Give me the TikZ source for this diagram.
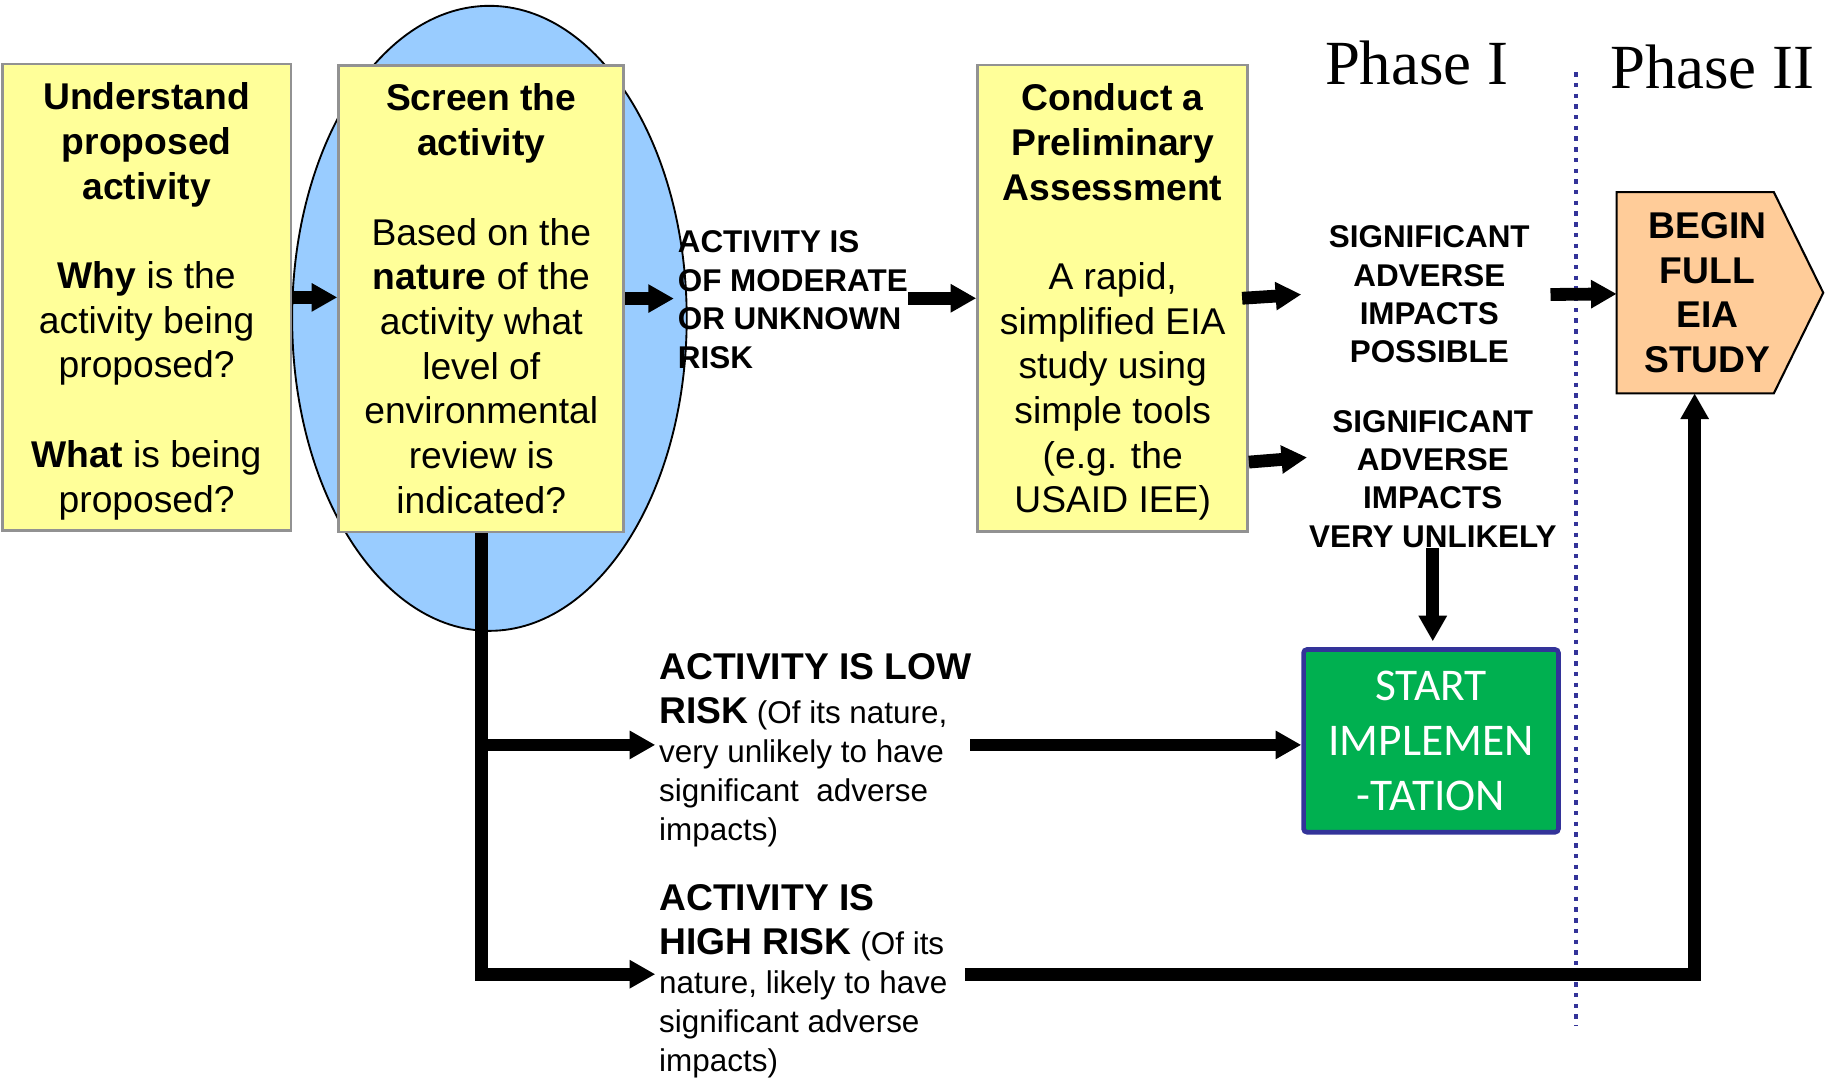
\documentclass[tikz,border=0pt]{standalone}
\usepackage{fontspec}
\setmainfont{Liberation Sans}
\newfontfamily\serifph{Liberation Serif}
\newfontfamily\calib{Carlito}
\usetikzlibrary{arrows.meta,shapes.geometric}
\definecolor{boxyellow}{HTML}{FFFF99}
\definecolor{boxgray}{HTML}{929292}
\definecolor{ovalblue}{HTML}{99CCFF}
\definecolor{peach}{HTML}{FFCC99}
\definecolor{startgreen}{HTML}{00B050}
\definecolor{navy}{HTML}{333399}
\begin{document}
\begin{tikzpicture}[x=0.5pt,y=-0.5pt,
  ybox/.style={draw=boxgray, line width=1.2pt, fill=boxyellow, inner sep=0pt, align=center,
    text depth=0pt, font=\fontsize{16}{19.2}\selectfont},
  blockarrow/.style={line width=5.5pt, line join=miter, -{Triangle[width=11.5pt,length=11pt]}},
  capsfont/.style={font=\fontsize{13.5}{16.5}\selectfont\bfseries, inner sep=0pt},
  risktext/.style={font=\fontsize{13.5}{16.7}\selectfont, align=left, inner sep=0pt, anchor=north west},
  phasetext/.style={font=\serifph\fontsize{27}{30}\selectfont, anchor=base west, inner sep=0pt},
  divider/.style={navy, line width=2pt, dash pattern=on 1.9pt off 2.7pt},
]
\useasboundingbox (0,0) rectangle (1568,928.8);

% oval behind the screening box
\node[ellipse, draw=black, line width=0.8pt, fill=ovalblue, minimum width=169.5pt,
      minimum height=268.5pt, inner sep=0pt] (oval) at (420.5,273.5) {};

% yellow boxes
\node[ybox, minimum width=124pt, minimum height=200.5pt] (understand) at (126,255.5)
 {\textbf{Understand}\\\textbf{proposed}\\\textbf{activity}\\ ~\\\textbf{Why} is the\\activity being\\proposed?\\ ~\\\textbf{What} is being\\proposed?};
\node[ybox, minimum width=122.5pt, minimum height=200.5pt] (screen) at (413.5,256.5)
 {\textbf{Screen the}\\\textbf{activity}\\ ~\\Based on the\\\textbf{nature} of the\\activity what\\level of\\environmental\\review is\\indicated?};
\node[ybox, minimum width=116pt, minimum height=200.5pt] (conduct) at (956,256.25)
 {\textbf{Conduct a}\\\textbf{Preliminary}\\\textbf{Assessment}\\ ~\\A rapid,\\simplified EIA\\study using\\simple tools\\(e.g. the\\USAID IEE)};

% labels
\node[capsfont, align=left, anchor=west] (mod) at (582,257.5)
 {ACTIVITY IS\\OF MODERATE\\OR UNKNOWN\\RISK};
\node[capsfont, align=center] (sigpos) at (1228,253)
 {SIGNIFICANT\\ADVERSE\\IMPACTS\\POSSIBLE};
\node[capsfont, align=center] (sigunl) at (1231,411.5)
 {SIGNIFICANT\\ADVERSE\\IMPACTS\\VERY UNLIKELY};

\node[risktext] (low) at (566,561)
 {{\fontsize{16}{19}\selectfont\bfseries ACTIVITY IS LOW}\\[2.3pt]{\fontsize{16}{19}\selectfont\bfseries RISK} (Of its nature,\\very unlikely to have\\significant~ adverse\\impacts)};
\node[risktext] (high) at (566,759.4)
 {{\fontsize{16}{19}\selectfont\bfseries ACTIVITY IS}\\[2.3pt]{\fontsize{16}{19}\selectfont\bfseries HIGH RISK} (Of its\\nature, likely to have\\significant adverse\\impacts)};

% phase headings
\node[phasetext] (ph1) at (1138,72.4) {Phase I};
\node[phasetext] (ph2) at (1383,75.7) {Phase II};

% begin full EIA pentagon
\coordinate (bA) at (1389,165);
\coordinate (bB) at (1524,165);
\coordinate (bC) at (1566.5,251.5);
\coordinate (bD) at (1524,338);
\coordinate (bE) at (1389,338);
\draw[fill=peach, line width=0.9pt] (bA) -- (bB) -- (bC) -- (bD) -- (bE) -- cycle;
\node[font=\fontsize{16}{19.2}\selectfont\bfseries, align=center, inner sep=0pt] (begin) at (1467,251.5)
 {BEGIN\\FULL\\EIA\\STUDY};
\coordinate (beginW) at (1389,252.5);
\coordinate (beginS) at (1456,338);

% start implementation
\node[draw=navy, line width=2pt, fill=startgreen, rounded corners=1.5pt, minimum width=109.5pt,
      minimum height=78.5pt, text=white, font=\calib\fontsize{19.5}{23.5}\selectfont,
      align=center, inner sep=0pt] (start) at (1229.5,636.5) {START\\IMPLEMEN\\-TATION};

% connector ends
\coordinate (pa) at (1118,253);
\coordinate (pbs) at (1073,397);
\coordinate (pb) at (1123,393);
\coordinate (lowtip) at (563,640);
\coordinate (hightip) at (563,837);
\coordinate (lowend) at (833.5,640);
\coordinate (highend) at (829,837);

% phase divider
\coordinate (divtop) at (1354,62);
\coordinate (divbot) at (1354,881.5);
\draw[divider] (divtop) -- (divbot);

% connectors
\draw[blockarrow] (understand.east) -- (understand.east -| screen.west);
\draw[blockarrow, shorten >=1.5pt] (screen.east) -- (screen.east -| mod.west);
\draw[blockarrow] (mod.east |- conduct.west) -- (conduct.west);
\draw[blockarrow] ([xshift=-3pt]conduct.east) -- (pa);
\draw[blockarrow] (pbs) -- (pb);
\draw[blockarrow] ([xshift=8.75pt]sigpos.east) -- (beginW);
\draw[blockarrow, shorten >=2.5pt] (sigunl.south) -- (sigunl.south |- start.north);
\draw[blockarrow] (screen.south) |- (hightip);
\draw[blockarrow] (screen.south |- lowtip) -- (lowtip);
\draw[blockarrow] (lowend) -- (lowend -| start.west);
\draw[blockarrow] (highend) -| (beginS);
\end{tikzpicture}
\end{document}
